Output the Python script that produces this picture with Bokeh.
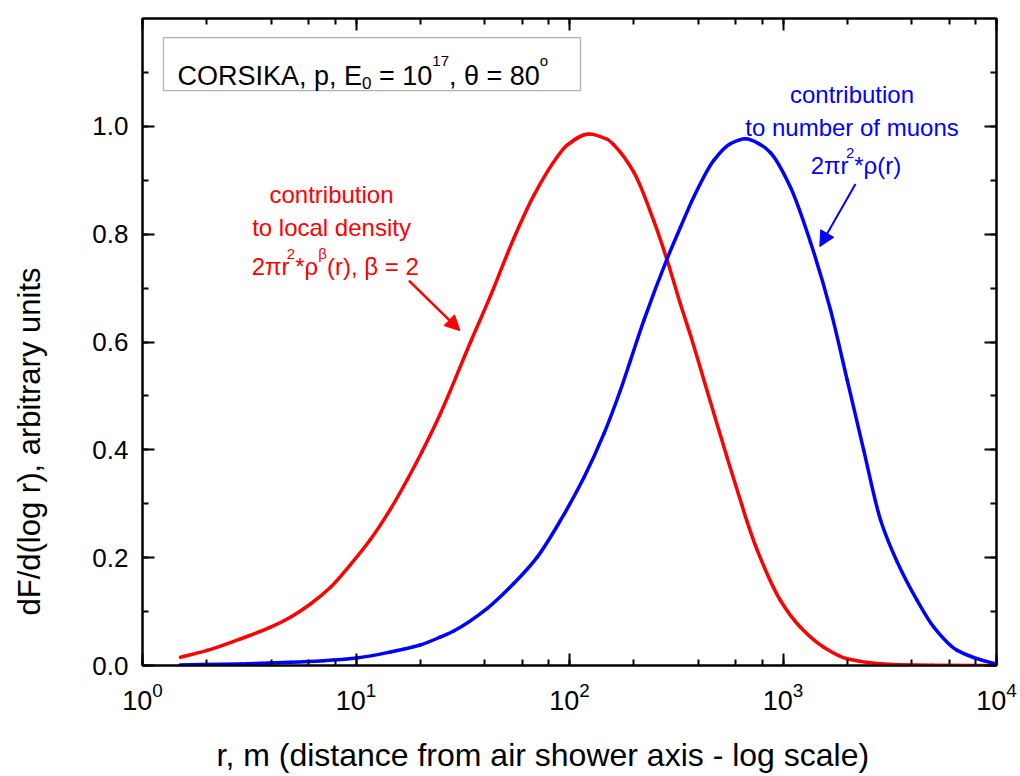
import math
from bokeh.plotting import figure
from bokeh.models import (Range1d, LinearAxis, LogAxis, SingleIntervalTicker, LogTicker,
                          PrintfTickFormatter, CustomJSTickFormatter, Label, Arrow,
                          NormalHead, BoxAnnotation, Title)
from bokeh.embed import file_html
from bokeh.resources import INLINE

# ---------------- data ----------------
# red: contribution to local density, 2*pi*r^2*rho^beta(r), beta = 2
r_local = [1.507, 2.01, 2.88, 3.98, 4.93, 6.12, 7.6, 9.42, 11.7, 14.5, 17.4, 20.4,
           24.9, 34.4, 42.6, 54.8, 68.1, 87.5, 97.5, 123, 150, 161, 200, 248, 287,
           331, 369, 457, 548, 641, 680, 757, 973, 1207, 1552, 1997, 2662, 3500,
           5000, 10000]
f_local = [0.0154, 0.028, 0.0495, 0.071, 0.0896, 0.114, 0.145, 0.187, 0.234, 0.290,
           0.345, 0.397, 0.468, 0.600, 0.685, 0.792, 0.872, 0.943, 0.965, 0.986,
           0.976, 0.966, 0.915, 0.825, 0.751, 0.670, 0.612, 0.489, 0.385, 0.298,
           0.266, 0.214, 0.1206, 0.071, 0.034, 0.0124, 0.0043, 0.0015, 0.0005, 0.0]

# blue: contribution to number of muons, 2*pi*r^2*rho(r)
r_muon = [1.5, 2.88, 4.93, 7.05, 10.05, 14.5, 20, 24.9, 28.7, 41.2, 54.8, 70.6, 90.7,
          117, 145, 173, 193, 223, 287, 331, 382, 474, 568, 667, 785, 874, 1084,
          1345, 1668, 1997, 2389, 2863, 3428, 4249, 5084, 6545, 9710, 10000]
f_muon = [0.001, 0.003, 0.006, 0.009, 0.014, 0.025, 0.038, 0.053, 0.064, 0.106,
          0.152, 0.201, 0.269, 0.349, 0.430, 0.510, 0.566, 0.640, 0.755, 0.813,
          0.869, 0.937, 0.968, 0.977, 0.966, 0.951, 0.887, 0.785, 0.660, 0.530,
          0.399, 0.270, 0.192, 0.1206, 0.071, 0.028, 0.004, 0.003]

x_limits = [1, 10000]
y_limits = [0, 1.2]

x_title = "r, m (distance from air shower axis - log scale)"
y_title = "dF/d(log r), arbitrary units"

FONT = "Liberation Sans"
RED = "#ff0000"
BLUE = "#0000ff"

p = figure(width=1020, height=776, x_axis_type="log",
           x_range=Range1d(*x_limits), y_range=Range1d(*y_limits),
           output_backend="svg", toolbar_location=None,
           min_border_left=142, min_border_right=24, min_border_top=18,
           min_border_bottom=111)
p.title.visible = False
p.grid.visible = False
p.outline_line_color = "black"
p.outline_line_width = 2
p.background_fill_color = "white"
p.border_fill_color = "white"


def style(ax, size):
    ax.axis_line_width = 2
    ax.axis_line_color = "black"
    ax.major_tick_line_width = 2
    ax.minor_tick_line_width = 2
    ax.major_tick_in = 12
    ax.major_tick_out = 0
    ax.minor_tick_in = 6
    ax.minor_tick_out = 0
    ax.major_label_text_font = FONT
    ax.major_label_text_font_size = size
    ax.major_label_text_color = "black"


xt = LogTicker()
yt = SingleIntervalTicker(interval=0.2, num_minor_ticks=2)

xa = p.xaxis[0]
xa.ticker = xt
style(xa, "27px")
xa.major_label_standoff = 16
# trailing no-break spaces shift the centred title left, as in the reference
xa.axis_label = x_title + "\u00a0" * 6
xa.axis_label_text_font = FONT
xa.axis_label_text_font_size = "32px"
xa.axis_label_text_font_style = "normal"
xa.axis_label_text_color = "black"
xa.axis_label_standoff = 24

ya = p.yaxis[0]
ya.ticker = yt
ya.formatter = PrintfTickFormatter(format="%.1f")
style(ya, "26px")
ya.major_label_standoff = 14

blank = CustomJSTickFormatter(code="return ''")
top = LogAxis(ticker=xt, formatter=blank)
style(top, "1px")
p.add_layout(top, "above")
right = LinearAxis(ticker=yt, formatter=blank)
style(right, "1px")
p.add_layout(right, "right")

p.add_layout(Title(text=y_title + "\n", align="left", offset=50, vertical_align="top",
                   standoff=11, text_font=FONT, text_font_size="31px",
                   text_font_style="normal", text_color="black"), "left")


# smooth curve through the read points (monotone cubic, drawn as Bezier segments)
def smooth_curve(rs, fs, color):
    u = [math.log10(r) for r in rs]
    v = list(fs)
    n = len(u)
    h = [u[i + 1] - u[i] for i in range(n - 1)]
    d = [(v[i + 1] - v[i]) / h[i] for i in range(n - 1)]
    m = [0.0] * n
    m[0], m[-1] = d[0], d[-1]
    for i in range(1, n - 1):
        if d[i - 1] * d[i] <= 0:
            m[i] = 0.0
        else:
            w1 = 2 * h[i] + h[i - 1]
            w2 = h[i] + 2 * h[i - 1]
            m[i] = (w1 + w2) / (w1 / d[i - 1] + w2 / d[i])
    seg = dict(x0=[], y0=[], x1=[], y1=[], cx0=[], cy0=[], cx1=[], cy1=[])
    for i in range(n - 1):
        seg["x0"].append(rs[i]); seg["y0"].append(v[i])
        seg["x1"].append(rs[i + 1]); seg["y1"].append(v[i + 1])
        seg["cx0"].append(10 ** (u[i] + h[i] / 3)); seg["cy0"].append(v[i] + m[i] * h[i] / 3)
        seg["cx1"].append(10 ** (u[i + 1] - h[i] / 3)); seg["cy1"].append(v[i + 1] - m[i + 1] * h[i] / 3)
    p.bezier(line_color=color, line_width=3.5, line_cap="round", **seg)


smooth_curve(r_local, f_local, RED)
smooth_curve(r_muon, f_muon, BLUE)

# ---------------- annotations ----------------
AW = {' ': .278, ',': .278, '.': .278, '=': .584, '*': .389, '(': .333, ')': .333,
      '-': .333, 'A': .667, 'C': .722, 'E': .667, 'I': .278, 'K': .667, 'O': .778,
      'R': .722, 'S': .667, 'p': .556, 'r': .333, 'o': .556, 'π': .578, 'ρ': .574,
      'β': .575, 'θ': .556}


def tw(s, size):
    return sum(AW.get(c, 0.556) for c in s) * size


def pieces(x, y, parts, color, align="left"):
    total = sum(tw(t, s) for t, s, _ in parts)
    cur = -total / 2 if align == "center" else 0
    for t, s, dy in parts:
        lead = len(t) - len(t.lstrip(" "))
        txt = t.strip(" ")
        p.add_layout(Label(x=x, y=y, text=txt, x_offset=cur + tw(" " * lead, s),
                           y_offset=dy, text_font=FONT, text_font_size=f"{s}px",
                           text_color=color, text_baseline="alphabetic",
                           text_align="left"))
        cur += tw(t, s)


def line_label(x, y, text, color, size=24):
    p.add_layout(Label(x=x, y=y, text=text, text_font=FONT, text_font_size=f"{size}px",
                       text_color=color, text_baseline="alphabetic", text_align="center"))


# legend-like box
p.add_layout(BoxAnnotation(left=1.254, right=112.6, bottom=1.0664, top=1.1647,
                           fill_color=None, line_color="black", line_width=1.3))
pieces(1.458, 1.0942, [("CORSIKA, p, E", 27, 0), ("0", 17, -7), (" = 10", 27, 0),
                       ("17", 15, 15), (", θ = 80", 27, 0), ("o", 15, 15)], "black")

# red annotation
line_label(7.68, 0.8735, "contribution", RED)
line_label(7.68, 0.8129, "to local density", RED)
pieces(7.99, 0.7400, [("2πr", 24, 0), ("2", 15, 13), ("*ρ", 24, 0), ("β", 15, 13),
                      ("(r), β = 2", 24, 0)], RED, align="center")
p.add_layout(Arrow(end=NormalHead(size=15, fill_color=RED, line_color=RED),
                   x_start=17.7, y_start=0.714, x_end=30.7, y_end=0.621,
                   line_color=RED, line_width=2.5))

# blue annotation
line_label(2105, 1.059, "contribution", BLUE)
line_label(2105, 0.998, "to number of muons", BLUE)
pieces(2198, 0.9273, [("2πr", 24, 0), ("2", 15, 13), ("*ρ(r)", 24, 0)], BLUE,
       align="center")
p.add_layout(Arrow(end=NormalHead(size=15, fill_color=BLUE, line_color=BLUE),
                   x_start=2186, y_start=0.893, x_end=1487, y_end=0.777,
                   line_color=BLUE, line_width=2))

open("out.html", "w").write(file_html(p, INLINE))
